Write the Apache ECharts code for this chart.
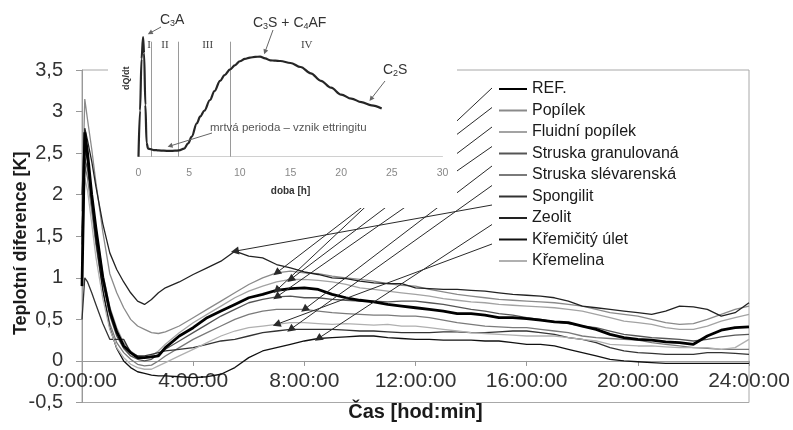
<!DOCTYPE html>
<html>
<head>
<meta charset="utf-8">
<script src="https://cdn.jsdelivr.net/npm/echarts@6/dist/echarts.min.js"></script>
<style>
html,body{margin:0;padding:0;background:#fff;}
#chart{width:793px;height:430px;}
</style>
</head>
<body>
<div id="chart"></div>
<script>
// ---------- DATA ----------
const hours = [0,0.1,0.2,0.35,0.5,0.75,1,1.25,1.5,1.75,2,2.25,2.5,2.75,3,3.5,4,4.5,5,5.5,6,6.5,7,7.5,8,8.5,9,9.5,10,10.5,11,11.5,12,12.5,13,13.5,14,14.5,15,15.5,16,16.5,17,17.5,18,18.5,19,19.5,20,20.5,21,21.5,22,22.5,23,23.5,24];

const refVals = [0.9,2.75,2.5,2.0,1.6,1.0,0.6,0.35,0.18,0.1,0.04,0.04,0.05,0.06,0.16,0.3,0.4,0.52,0.6,0.68,0.76,0.8,0.85,0.87,0.88,0.86,0.8,0.76,0.73,0.71,0.68,0.66,0.64,0.62,0.6,0.57,0.57,0.55,0.52,0.52,0.51,0.49,0.47,0.46,0.42,0.38,0.32,0.28,0.26,0.25,0.23,0.22,0.2,0.3,0.37,0.4,0.41];
const popilekVals = [1.8,3.15,2.9,2.55,2.15,1.55,1.05,0.82,0.64,0.5,0.42,0.38,0.34,0.33,0.35,0.42,0.52,0.62,0.72,0.82,0.92,1.0,1.06,1.08,1.06,1.05,1.02,1.0,0.98,0.96,0.93,0.91,0.9,0.86,0.83,0.8,0.78,0.76,0.74,0.73,0.72,0.71,0.7,0.68,0.66,0.62,0.58,0.56,0.54,0.5,0.46,0.44,0.45,0.5,0.56,0.62,0.66];
const fluidniVals = [1.6,2.55,2.4,2.0,1.6,1.05,0.65,0.4,0.22,0.12,0.06,0.04,0.06,0.12,0.2,0.34,0.46,0.56,0.66,0.76,0.84,0.9,0.95,0.98,0.98,0.97,0.95,0.92,0.88,0.86,0.84,0.82,0.8,0.78,0.75,0.73,0.71,0.7,0.68,0.67,0.66,0.65,0.64,0.62,0.6,0.56,0.52,0.48,0.46,0.44,0.4,0.38,0.38,0.42,0.48,0.52,0.56];
const struskaGranVals = [1.4,2.45,2.3,1.9,1.5,0.95,0.55,0.3,0.15,0.06,0.02,0.0,0.02,0.08,0.14,0.24,0.34,0.44,0.54,0.62,0.7,0.74,0.77,0.78,0.76,0.76,0.74,0.73,0.72,0.72,0.71,0.72,0.72,0.7,0.68,0.65,0.62,0.6,0.57,0.55,0.52,0.5,0.47,0.45,0.42,0.4,0.36,0.32,0.3,0.28,0.27,0.26,0.24,0.26,0.29,0.31,0.32];
const struskaSlevVals = [1.2,2.35,2.2,1.8,1.4,0.85,0.45,0.22,0.1,0.02,-0.04,-0.06,-0.05,0.0,0.06,0.16,0.26,0.34,0.42,0.5,0.56,0.6,0.62,0.62,0.62,0.6,0.58,0.57,0.56,0.55,0.55,0.54,0.54,0.52,0.49,0.46,0.44,0.42,0.41,0.4,0.4,0.38,0.36,0.34,0.3,0.28,0.27,0.26,0.25,0.22,0.2,0.18,0.16,0.15,0.14,0.14,0.14];
const spongilitVals = [0.5,1.0,0.95,0.82,0.68,0.45,0.26,0.26,0.26,0.1,0.06,0.06,0.08,0.1,0.12,0.14,0.16,0.2,0.24,0.26,0.3,0.34,0.36,0.38,0.38,0.38,0.38,0.37,0.36,0.36,0.35,0.34,0.34,0.34,0.35,0.35,0.34,0.34,0.35,0.36,0.36,0.34,0.32,0.28,0.26,0.22,0.16,0.12,0.1,0.09,0.08,0.08,0.08,0.1,0.1,0.09,0.08];
const zeolitVals = [2.0,2.8,2.65,2.4,2.1,1.65,1.3,1.1,0.95,0.82,0.72,0.68,0.74,0.82,0.88,0.95,1.04,1.12,1.2,1.32,1.26,1.24,1.16,1.12,1.07,1.04,1.0,0.99,0.96,0.94,0.93,0.93,0.88,0.87,0.86,0.86,0.85,0.84,0.82,0.8,0.79,0.78,0.76,0.72,0.66,0.64,0.62,0.6,0.58,0.56,0.6,0.66,0.65,0.62,0.54,0.58,0.7];
const kremicityVals = [1.5,2.6,2.4,1.9,1.45,0.85,0.4,0.15,0.0,-0.08,-0.13,-0.15,-0.17,-0.18,-0.18,-0.19,-0.2,-0.19,-0.16,-0.08,0.04,0.12,0.16,0.2,0.24,0.27,0.28,0.29,0.3,0.3,0.28,0.27,0.26,0.26,0.25,0.25,0.25,0.24,0.24,0.22,0.2,0.2,0.18,0.14,0.1,0.06,0.02,0.0,-0.01,-0.02,-0.03,-0.03,-0.03,-0.03,-0.03,-0.03,-0.03];
const kremelinaVals = [1.0,2.2,2.05,1.65,1.25,0.75,0.38,0.16,0.04,-0.04,-0.08,-0.1,-0.1,-0.06,-0.02,0.06,0.14,0.22,0.3,0.36,0.4,0.42,0.44,0.46,0.46,0.45,0.44,0.45,0.44,0.43,0.44,0.42,0.42,0.4,0.38,0.36,0.34,0.33,0.32,0.31,0.3,0.3,0.3,0.28,0.26,0.24,0.2,0.19,0.18,0.18,0.17,0.16,0.16,0.16,0.14,0.16,0.26];

const seriesNames = ['REF.','Popílek','Fluidní popílek','Struska granulovaná','Struska slévarenská','Spongilit','Zeolit','Křemičitý úlet','Křemelina'];
const seriesValues = [refVals,popilekVals,fluidniVals,struskaGranVals,struskaSlevVals,spongilitVals,zeolitVals,kremicityVals,kremelinaVals];
// hour at which each legend leader arrow points onto its curve
const leaderHours = [7,7,7.5,7,8,7.5,5.5,8.5,7];

const xTickLabels = ['0:00:00','4:00:00','8:00:00','12:00:00','16:00:00','20:00:00','24:00:00'];
const yTickLabels = ['-0,5','0','0,5','1','1,5','2','2,5','3','3,5'];

// inset (schematic hydration heat curve)
const insetHours = [0,0.15,0.3,0.45,0.55,0.68,0.8,0.95,1.5,2,2.5,3.1,3.6,4,4.5,4.9,5.25,5.75,6.1,6.5,7.05,7.5,8.05,8.5,9.05,9.5,10,10.5,11,11.5,12,12.5,13,13.5,14,15,16,17,18,19,20,21,22,23,24];
const insetVals = [0,4,8.5,10.4,9,4.5,1.2,0.7,0.58,0.55,0.52,0.5,0.52,0.55,0.7,1.16,1.74,2.9,3.5,4.0,4.93,5.7,6.6,7.1,7.6,7.95,8.3,8.5,8.62,8.68,8.7,8.55,8.38,8.35,8.32,8.15,7.8,7.25,6.6,6.0,5.4,5.05,4.75,4.47,4.2];
const insetTicks = ['0','5','10','15','20','25','30'];
const insetPhaseLines = [1.3,3.93,9.03];

// ---------- STYLE / LAYOUT ----------
const FONT = "'Liberation Sans', Arial, sans-serif";
const colors = ['#000000','#8a8a8a','#a3a3a3','#555555','#7a7a7a','#333333','#222222','#111111','#b0b0b0'];
const widths = [2.8,1.3,1.3,1.3,1.3,1.3,1.3,1.3,1.3];

const gridTop = 70, gridBottom = 27.5;
const plotH = 430 - gridTop - gridBottom;
const yMin = -0.5, yMax = 3.5;
const zeroOffset = plotH * (0 - yMin) / (yMax - yMin); // distance of zero line above bottom edge

const legendPad = 5, legendTop = 76, legendItemH = 14, legendGap = 5.5;

const mainSeries = seriesNames.map((name, i) => {
  const vals = seriesValues[i];
  const idx = hours.indexOf(leaderHours[i]);
  const rowY = legendTop + legendPad + i * (legendItemH + legendGap) + legendItemH / 2;
  return {
    name: name,
    type: 'line',
    xAxisIndex: 0, yAxisIndex: 0,
    data: hours.map((h, k) => [h, vals[k]]),
    symbol: 'none',
    z: i === 0 ? 4 : 3,
    lineStyle: {color: colors[i], width: widths[i]},
    itemStyle: {color: colors[i]},
    markLine: {
      silent: true,
      animation: false,
      z: 5,
      symbol: ['none', 'triangle'],
      symbolSize: 8,
      label: {show: false},
      lineStyle: {color: '#2a2a2a', width: 1, type: 'solid'},
      itemStyle: {color: '#2a2a2a'},
      emphasis: {disabled: true},
      data: [[{x: 492, y: rowY}, {coord: [hours[idx], vals[idx]]}]]
    }
  };
});

const chart = echarts.init(document.getElementById('chart'), null, {renderer: 'canvas'});

const option = {
  animation: false,
  backgroundColor: '#fff',
  textStyle: {fontFamily: FONT},
  grid: [
    {left: 82, right: 44, top: gridTop, bottom: gridBottom, outerBoundsMode: 'none', containLabel: false,
      show: true, borderColor: '#a8a8a8', borderWidth: 1, backgroundColor: 'transparent'},
    {left: 138.5, width: 304, top: 41.7, height: 115, outerBoundsMode: 'none', containLabel: false, z: 110}
  ],
  legend: {
    orient: 'vertical',
    left: 493, top: legendTop, padding: legendPad,
    itemWidth: 28, itemHeight: legendItemH, itemGap: legendGap,
    selectedMode: false,
    data: seriesNames,
    itemStyle: {opacity: 0},
    textStyle: {fontFamily: FONT, fontSize: 16, color: '#1a1a1a'}
  },
  xAxis: [
    {
      type: 'value', gridIndex: 0, min: 0, max: 24, interval: 4,
      position: 'bottom', offset: -zeroOffset,
      axisLine: {onZero: false, lineStyle: {color: '#999', width: 1}},
      axisTick: {show: true, length: 5, lineStyle: {color: '#999'}},
      splitLine: {show: false},
      axisLabel: {margin: 10, fontSize: 21, color: '#333', fontFamily: FONT,
        formatter: v => xTickLabels[Math.round(v / 4)]},
      name: 'Čas [hod:min]', nameLocation: 'middle', nameGap: 42, nameMoveOverlap: false,
      nameTextStyle: {fontSize: 20, fontWeight: 'bold', color: '#1a1a1a', fontFamily: FONT}
    },
    {
      type: 'value', gridIndex: 1, min: 0, max: 30, interval: 5, z: 110,
      axisLine: {onZero: false, lineStyle: {color: '#d0d0d0', width: 1}},
      axisTick: {show: false},
      splitLine: {show: false},
      axisLabel: {margin: 11, fontSize: 10.5, color: '#888', fontFamily: FONT,
        formatter: v => insetTicks[Math.round(v / 5)]},
      name: 'doba [h]', nameLocation: 'middle', nameGap: 30, nameMoveOverlap: false,
      nameTextStyle: {fontSize: 10, fontWeight: 'bold', color: '#333', fontFamily: FONT}
    }
  ],
  yAxis: [
    {
      type: 'value', gridIndex: 0, min: yMin, max: yMax, interval: 0.5,
      axisLine: {show: true, onZero: false, lineStyle: {color: '#999', width: 1}},
      axisTick: {show: true, length: 6, lineStyle: {color: '#999'}},
      splitLine: {show: false},
      axisLabel: {margin: 19, fontSize: 20, color: '#333', fontFamily: FONT,
        formatter: v => yTickLabels[Math.round((v - yMin) / 0.5)]},
      name: 'Teplotní diference [K]', nameLocation: 'middle', nameGap: 52, nameMoveOverlap: false,
      nameTextStyle: {fontSize: 18, fontWeight: 'bold', color: '#1a1a1a', fontFamily: FONT, padding: [0, 14, 0, 0]}
    },
    {
      type: 'value', gridIndex: 1, min: 0, max: 10, show: false, z: 110
    }
  ],
  series: mainSeries.concat([
    {
      name: 'inset',
      type: 'line',
      xAxisIndex: 1, yAxisIndex: 1,
      data: insetHours.map((h, k) => [h, insetVals[k]]),
      symbol: 'none',
      smooth: 0.35,
      smoothMonotone: 'x',
      clip: false,
      z: 120,
      lineStyle: {color: '#262626', width: 2.2},
      markLine: {
        silent: true, animation: false, z: 115, symbol: ['none', 'none'],
        label: {show: false},
        lineStyle: {color: '#9a9a9a', width: 1, type: 'solid'},
        emphasis: {disabled: true},
        data: insetPhaseLines.map(v => ({xAxis: v}))
      }
    },
    {
      name: 'insetNotes',
      type: 'line',
      xAxisIndex: 1, yAxisIndex: 1,
      data: insetHours.map((h, k) => [h, insetVals[k]]),
      symbol: 'none',
      clip: false,
      z: 125,
      lineStyle: {opacity: 0, width: 0},
      markLine: {
        silent: true, animation: false, z: 125, symbol: ['none', 'triangle'], symbolSize: 5,
        label: {show: false},
        lineStyle: {color: '#666', width: 1, type: 'solid'},
        itemStyle: {color: '#444'},
        emphasis: {disabled: true},
        data: [
          [{x: 161, y: 27}, {x: 150, y: 33}],
          [{x: 273, y: 30}, {x: 265, y: 52}],
          [{x: 385, y: 81}, {x: 371, y: 99}],
          [{x: 212, y: 133}, {x: 170, y: 146}]
        ]
      }
    }
  ]),
  graphic: [
    {type: 'rect', z: 100, silent: true, shape: {x: 108, y: 0, width: 349, height: 208}, style: {fill: '#ffffff'}},
    {type: 'text', z: 130, silent: true, x: 160, y: 20,
      style: {text: '{a|C}{s|3}{a|A}', verticalAlign: 'middle',
        rich: {a: {fontSize: 14, fontFamily: FONT, fill: '#333', lineHeight: 16}, s: {fontSize: 9, fontFamily: FONT, fill: '#333', verticalAlign: 'bottom', lineHeight: 16}}}},
    {type: 'text', z: 130, silent: true, x: 253, y: 22.7,
      style: {text: '{a|C}{s|3}{a|S + C}{s|4}{a|AF}', verticalAlign: 'middle',
        rich: {a: {fontSize: 14, fontFamily: FONT, fill: '#333', lineHeight: 16}, s: {fontSize: 9, fontFamily: FONT, fill: '#333', verticalAlign: 'bottom', lineHeight: 16}}}},
    {type: 'text', z: 130, silent: true, x: 383, y: 70,
      style: {text: '{a|C}{s|2}{a|S}', verticalAlign: 'middle',
        rich: {a: {fontSize: 14, fontFamily: FONT, fill: '#333', lineHeight: 16}, s: {fontSize: 9, fontFamily: FONT, fill: '#333', verticalAlign: 'bottom', lineHeight: 16}}}},
    {type: 'text', z: 130, silent: true, x: 210, y: 128.3,
      style: {text: 'mrtvá perioda – vznik ettringitu', verticalAlign: 'middle', font: "11.5px 'Liberation Sans', Arial, sans-serif", fill: '#555'}},
    {type: 'text', z: 130, silent: true, x: 149, y: 45,
      style: {text: 'I', align: 'center', verticalAlign: 'middle', font: "11px 'Liberation Serif', 'Times New Roman', serif", fill: '#444'}},
    {type: 'text', z: 130, silent: true, x: 165, y: 45,
      style: {text: 'II', align: 'center', verticalAlign: 'middle', font: "11px 'Liberation Serif', 'Times New Roman', serif", fill: '#444'}},
    {type: 'text', z: 130, silent: true, x: 207.7, y: 45,
      style: {text: 'III', align: 'center', verticalAlign: 'middle', font: "11px 'Liberation Serif', 'Times New Roman', serif", fill: '#444'}},
    {type: 'text', z: 130, silent: true, x: 306.7, y: 45,
      style: {text: 'IV', align: 'center', verticalAlign: 'middle', font: "11px 'Liberation Serif', 'Times New Roman', serif", fill: '#444'}},
    {type: 'text', z: 130, silent: true, x: 126.7, y: 78.3, rotation: Math.PI / 2,
      style: {text: 'dQ/dt', align: 'center', verticalAlign: 'middle', font: "bold 9px 'Liberation Sans', Arial, sans-serif", fill: '#333'}}
  ]
};

chart.setOption(option);
</script>
</body>
</html>
